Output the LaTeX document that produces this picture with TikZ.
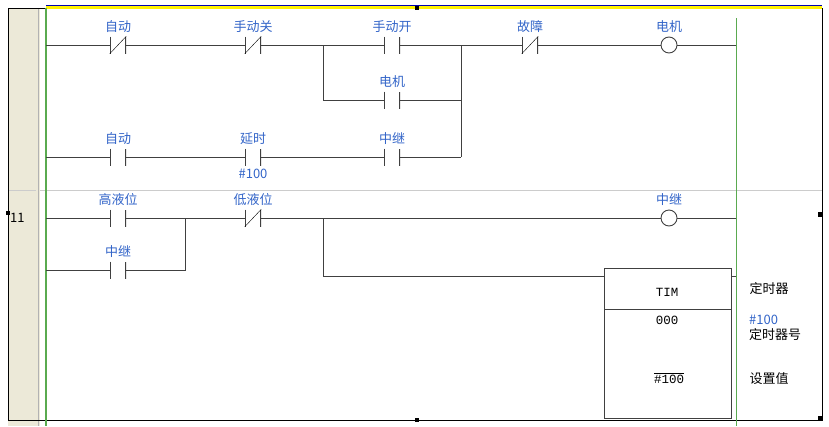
\documentclass[tikz,border=0pt]{standalone}
\usepackage{fontspec}
\setmainfont{Noto Sans CJK SC}
\newfontfamily\monofnt{Liberation Mono}
\usetikzlibrary{positioning}
\definecolor{lblue}{RGB}{50,100,200}
\definecolor{rail}{RGB}{90,170,80}
\definecolor{strip}{RGB}{236,233,216}
\tikzset{
  wire/.style={draw=black!75, line width=0.9pt},
  no/.style={minimum width=16pt, minimum height=17pt, inner sep=0pt,
    path picture={\draw[black!75, line width=1.2pt]
      (path picture bounding box.north west) -- (path picture bounding box.south west)
      (path picture bounding box.north east) -- (path picture bounding box.south east);}},
  nc/.style={no, append after command={[black!75, line width=0.9pt]
      (\tikzlastnode.south west) edge (\tikzlastnode.north east)}},
  coil/.style={circle, draw=black!75, line width=0.9pt, minimum size=16pt, inner sep=0pt},
  lbl/.style={text=lblue, font=\fontsize{13}{13}\selectfont, above=0pt},
  txt/.style={font=\fontsize{13}{14}\selectfont, anchor=west},
  mono/.style={font=\monofnt\fontsize{12.5}{13}\selectfont},
}
\begin{document}
\begin{tikzpicture}[x=1pt, y=-1pt]
  \useasboundingbox (0,0) rectangle (829,426);
  % frame and rails
  \fill[strip] (8,8) rectangle (40,426);
  \draw[black!30] (38,8) -- (38,426);
  \draw[black!20] (40,190) -- (822,190);
  \draw[black!20] (8,190) -- (36,190);
  \draw[black] (8,8) rectangle (822,420);
  \fill[yellow] (46,6) rectangle (822,9);
  \draw[blue!70!black] (46,5.5) -- (822,5.5);
  \draw[rail, line width=1.2pt] (46,8) -- (46,426);
  \draw[rail, line width=1pt] (736,18) -- (736,426);
  \node[font=\fontsize{13}{13}\selectfont, anchor=west, inner sep=0pt] (num) at (10,218) {11};
  \fill (6,211) rectangle (10,215);
  \fill (818,212) rectangle (823,217);
  \fill (415,418) rectangle (419,422);
  \fill (818,416) rectangle (823,421);
  \fill (415,6) rectangle (419,10);

  \coordinate (L1) at (46,45);
  \coordinate (L3) at (46,157);
  \coordinate (L11) at (46,218);
  \coordinate (L12) at (46,270);
  % rung 1
  \node[nc] (zd1) at (118,45) {};
  \node[nc] (sdg) at (253,45) {};
  \node[no] (sdk) at (392,45) {};
  \node[nc] (gz) at (530,45) {};
  \node[coil] (dj) at (669,45) {};
  \coordinate (R1) at (736,45);
  \coordinate (b1) at (323,45);
  \coordinate (b2) at (461,45);
  \node[no] (djc) at (392,100) {};
  \coordinate (b3) at (323,100);
  \coordinate (b4) at (461,100);
  \node[no] (zd2) at (118,157) {};
  \node[no] (ys) at (253,157) {};
  \node[no] (zj1) at (392,157) {};
  \coordinate (b5) at (461,157);
  \draw[wire] (L1) -- (zd1.west) (zd1.east) -- (sdg.west) (sdg.east) -- (sdk.west)
    (sdk.east) -- (gz.west) (gz.east) -- (dj.west) (dj.east) -- (R1);
  \draw[wire] (b1) -- (b3) -- (djc.west) (djc.east) -- (b4);
  \draw[wire] (b2) -- (b5);
  \draw[wire] (L3) -- (zd2.west) (zd2.east) -- (ys.west) (ys.east) -- (zj1.west) (zj1.east) -- (b5);
  % rung 11
  \node[no] (gyw) at (118,218) {};
  \node[nc] (dyw) at (253,218) {};
  \node[coil] (zj) at (669,218) {};
  \coordinate (R2) at (736,218);
  \node[no] (zj2) at (118,270) {};
  \coordinate (b6) at (185,218);
  \coordinate (b7) at (185,270);
  \coordinate (b8) at (323,218);
  \coordinate (b9) at (323,276);
  \node[draw=black!75, line width=0.9pt, minimum width=127pt, minimum height=150pt,
    inner sep=0pt, anchor=north west] (tim) at (604,268) {};
  \coordinate (R3) at (736,276);
  \draw[wire] (L11) -- (gyw.west) (gyw.east) -- (dyw.west) (dyw.east) -- (zj.west) (zj.east) -- (R2);
  \draw[wire] (L12) -- (zj2.west) (zj2.east) -- (b7) -- (b6);
  \draw[wire] (b8) -- (b9) -- (b9 -| tim.west);
  \draw[wire] (b9 -| tim.east) -- (R3);
  \draw[wire] (604,309) -- (731,309);
  \node[mono] at (667,292) {TIM};
  \node[mono] at (667,320) {000};
  \node[mono] at (669,378) {$\overline{\hbox{\monofnt\#100}}$};
  \node[txt] at (746,289) {定时器};
  \node[txt, text=lblue, inner sep=0pt] at (749,320) {\#100};
  \node[txt, inner sep=0pt] at (749,335) {定时器号};
  \node[txt] at (746,379) {设置值};
  % labels
  \node[lbl] at (zd1.north) {自动};
  \node[lbl] at (sdg.north) {手动关};
  \node[lbl] at (sdk.north) {手动开};
  \node[lbl] at (gz.north) {故障};
  \node[lbl] at (dj.north) {电机};
  \node[lbl] at (djc.north) {电机};
  \node[lbl] at (zd2.north) {自动};
  \node[lbl] at (ys.north) {延时};
  \node[lbl, below=0pt] at (ys.south) {\#100};
  \node[lbl] at (zj1.north) {中继};
  \node[lbl] at (gyw.north) {高液位};
  \node[lbl] at (dyw.north) {低液位};
  \node[lbl] at (zj.north) {中继};
  \node[lbl] at (zj2.north) {中继};
\end{tikzpicture}
\end{document}
